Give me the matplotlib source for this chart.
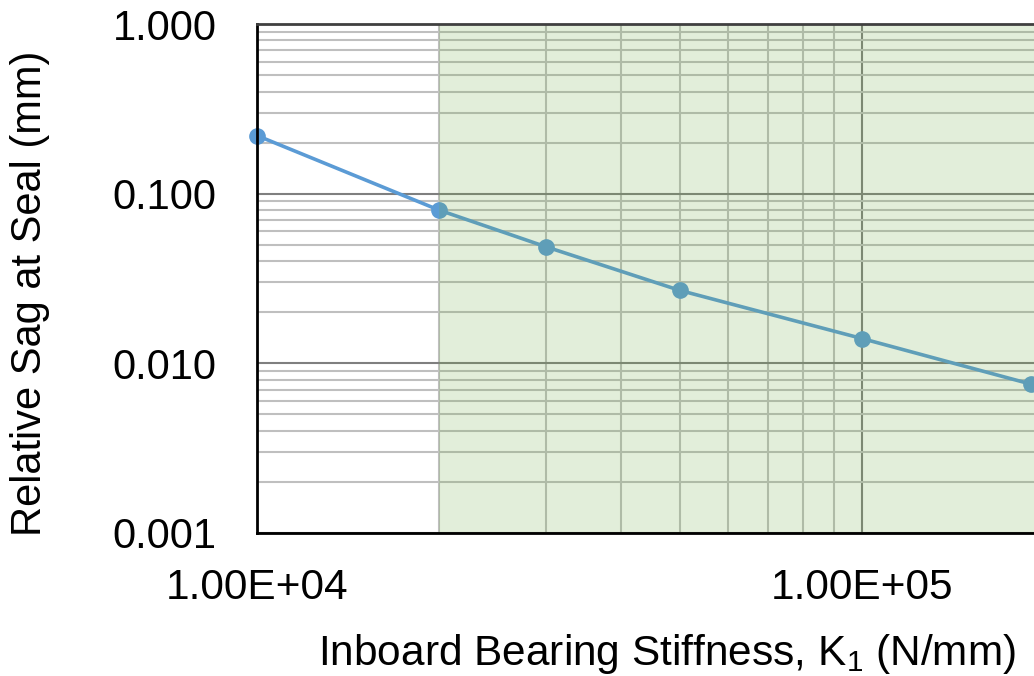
import matplotlib
matplotlib.use("Agg")
import matplotlib.pyplot as plt
from matplotlib.ticker import LogLocator, FixedLocator, FuncFormatter, NullFormatter

plt.rcParams['font.family'] = ['Liberation Sans', 'DejaVu Sans']
plt.rcParams['mathtext.fontset'] = 'custom'
plt.rcParams['mathtext.rm'] = 'Liberation Sans'
plt.rcParams['mathtext.it'] = 'Liberation Sans'

# data
stiffness = [1.0e4, 2.0e4, 3.0e4, 5.0e4, 1.0e5, 1.9e5]
sag = [0.220, 0.080, 0.0487, 0.0269, 0.0140, 0.00755]
shade_start = 2.0e4
x_ticks = [1e4, 1e5]
y_ticks = [0.001, 0.01, 0.1, 1.0]

fig = plt.figure(figsize=(10.34, 6.76), dpi=100)
# plot area runs past the right edge, like the cropped original
ax = fig.add_axes([257 / 1034, (676 - 533) / 676, 1210 / 1034, 509 / 676])

ax.set_xscale('log')
ax.set_yscale('log')
ax.set_xlim(1e4, 1e6)
ax.set_ylim(0.001, 1.0)

ax.plot(stiffness, sag, color='#5B9BD5', lw=2.6, marker='o', ms=11,
        zorder=3, clip_on=False)

# green shaded region drawn over grid and line
ax.axvspan(shade_start, 1e6, color='#70AD47', alpha=0.2, lw=0, zorder=4)

ax.xaxis.set_major_locator(FixedLocator(x_ticks))
ax.yaxis.set_major_locator(FixedLocator(y_ticks))
ax.xaxis.set_minor_locator(LogLocator(base=10, subs=range(2, 10), numticks=20))
ax.yaxis.set_minor_locator(LogLocator(base=10, subs=range(2, 10), numticks=20))
ax.xaxis.set_minor_formatter(NullFormatter())
ax.yaxis.set_minor_formatter(NullFormatter())
ax.xaxis.set_major_formatter(FuncFormatter(lambda v, p: f"{v:.2E}"))
ax.yaxis.set_major_formatter(FuncFormatter(lambda v, p: f"{v:.3f}"))

ax.grid(which='major', color='#7F7F7F', lw=1.5, zorder=1)
ax.grid(which='minor', color='#BFBFBF', lw=1.5, zorder=1)
ax.set_axisbelow(True)

ax.tick_params(which='both', length=0)
ax.tick_params(axis='x', labelsize=30.5, pad=25)
ax.tick_params(axis='y', labelsize=30, pad=29)

ax.spines['right'].set_visible(False)
ax.spines['left'].set_linewidth(2)
ax.spines['bottom'].set_linewidth(2)
ax.spines['top'].set_linewidth(2)
ax.spines['top'].set_color('#404040')
for s in ax.spines.values():
    s.set_zorder(5)

fig.text(667 / 1034, 1 - 665 / 676, "Inboard Bearing Stiffness, K$_1$ (N/mm)",
         fontsize=30.5, ha='center', va='baseline')
fig.text(30 / 1034, 1 - 293 / 676, "Relative Sag at Seal (mm)",
         fontsize=30, ha='center', va='center', rotation=90)

fig.savefig("out.png", dpi=100)
plt.close(fig)
